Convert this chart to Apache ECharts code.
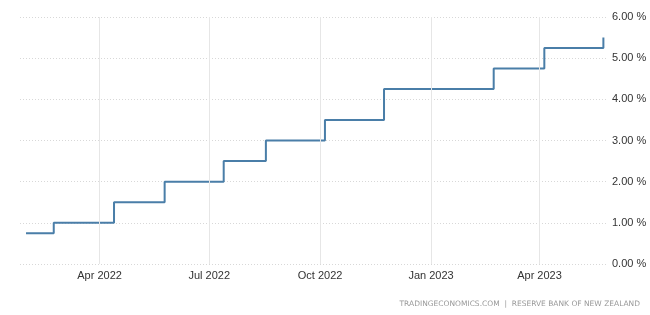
<!DOCTYPE html>
<html>
<head>
<meta charset="utf-8">
<script src="https://cdn.jsdelivr.net/npm/echarts@6/dist/echarts.min.js"></script>
<style>html,body{margin:0;padding:0;background:#fff}#c{width:650px;height:315px}</style>
</head>
<body>
<div id="c"></div>
<script>
var dates = ['2022-01-30','2022-02-22','2022-04-13','2022-05-25','2022-07-13','2022-08-17','2022-10-05','2022-11-23','2023-02-22','2023-04-05','2023-05-24'];
var rates = [0.75, 1.00, 1.50, 2.00, 2.50, 3.00, 3.50, 4.25, 4.75, 5.25, 5.50];
var tickDates = ['2022-04-01','2022-07-01','2022-10-01','2023-01-01','2023-04-01'];
var tickLabels = ['Apr 2022','Jul 2022','Oct 2022','Jan 2023','Apr 2023'];
var yTicks = [0,1,2,3,4,5,6];

var ts = function(s){ return new Date(s + 'T00:00:00Z').getTime(); };
var tickTs = tickDates.map(ts);
var seriesData = dates.map(function(d,i){ return [ts(d), rates[i]]; });

var chart = echarts.init(document.getElementById('c'));
chart.setOption({
  animation: false,
  grid: {left: 20, right: 43, top: 17, bottom: 51},
  xAxis: {
    type: 'value',
    min: ts('2022-01-25'),
    max: ts('2023-05-27'),
    scale: true,
    axisLine: {show: false},
    axisTick: {show: false},
    splitLine: {show: false},
    axisLabel: {
      customValues: tickTs,
      color: '#333',
      fontFamily: 'Liberation Sans, Arial, sans-serif',
      fontSize: 11,
      margin: 6,
      formatter: function(v){
        var i = tickTs.indexOf(v);
        return i >= 0 ? tickLabels[i] : '';
      }
    }
  },
  yAxis: {
    type: 'value',
    position: 'right',
    min: yTicks[0],
    max: yTicks[yTicks.length-1],
    interval: 1,
    axisLine: {show: false},
    axisTick: {show: false},
    axisLabel: {
      color: '#333',
      fontFamily: 'Liberation Sans, Arial, sans-serif',
      fontSize: 11,
      margin: 5,
      formatter: function(v){ return v.toFixed(2) + ' %'; }
    },
    splitLine: {lineStyle: {color: '#d8d8d8', type: [1,2], width: 1}}
  },
  series: [
    {
      type: 'line',
      data: [],
      silent: true,
      z: 1,
      markLine: {
        silent: true,
        symbol: ['none','none'],
        label: {show: false},
        lineStyle: {color: '#e6e6e6', type: 'solid', width: 1},
        data: tickTs.map(function(t){ return {xAxis: t}; })
      }
    },
    {
      type: 'line',
      step: 'end',
      data: seriesData,
      showSymbol: false,
      z: 3,
      lineStyle: {color: '#4a7ea8', width: 2}
    }
  ],
  graphic: [{
    type: 'text',
    right: 10,
    top: 300,
    style: {
      text: 'TRADINGECONOMICS.COM  |  RESERVE BANK OF NEW ZEALAND',
      fill: '#999',
      font: '7.5px "DejaVu Sans", sans-serif'
    }
  }]
});
</script>
</body>
</html>
